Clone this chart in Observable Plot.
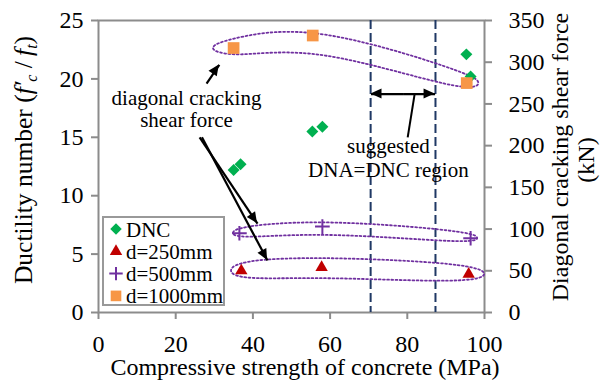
<!DOCTYPE html>
<html><head><meta charset="utf-8">
<script src="https://cdn.jsdelivr.net/npm/d3@7"></script>
<script src="https://cdn.jsdelivr.net/npm/@observablehq/plot@0.6"></script>
<style>body{margin:0;background:#fff}</style>
</head><body><div id="chart"></div>
<script>
// ---- tick labels ----
const xTicks = [0, 20, 40, 60, 80, 100];
const yTicks = [0, 5, 10, 15, 20, 25];
const shearTicks = [0, 50, 100, 150, 200, 250, 300, 350];

// ---- data ----
const fcDNC = [35.0, 36.8, 55.4, 58.0, 95.3, 96.4];
const ductDNC = [12.2, 12.7, 15.5, 15.9, 22.1, 20.2];
const fc250 = [37.0, 57.8, 95.9];
const shear250 = [50, 54, 46];
const fc500 = [36.5, 58.0, 96.4];
const shear500 = [95, 103, 89];
const fc1000 = [35.0, 55.5, 95.4];
const shear1000 = [317, 332, 275];
const regionBounds = [70.5, 87.3];

const seriesNames = ["DNC", "d=250mm", "d=500mm", "d=1000mm"];
const seriesColors = ["#00B050", "#C00000", "#7030A0", "#F79646"];
const seriesSymbols = ["diamond2", "triangle", "plus", "square"];

// annotation anchors (data units: MPa, ductility)
const noteTexts = [
  {x: 22.8, y: 18.35, text: "diagonal cracking"},
  {x: 22.8, y: 16.44, text: "shear force"},
  {x: 75.1, y: 14.27, text: "suggested"},
  {x: 75.1, y: 12.16, text: "DNA=DNC region"}
];
const noteArrows = [
  {x1: 28.0, y1: 19.6, x2: 31.3, y2: 21.2},
  {x1: 26.2, y1: 15.0, x2: 41.2, y2: 7.6},
  {x1: 26.8, y1: 15.0, x2: 43.8, y2: 4.45},
  {x1: 78.9, y1: 18.7, x2: 70.6, y2: 18.7},
  {x1: 78.9, y1: 18.7, x2: 87.2, y2: 18.7}
];
const noteLinks = [{x1: 81.9, y1: 18.7, x2: 80.1, y2: 15.0}];

// ---- build ----
const K = 25 / 350; // shear (kN) -> left axis units
const zip = (xs, ys, k = 1) => xs.map((x, i) => ({x, y: ys[i] * k}));
const dncData = zip(fcDNC, ductDNC);
const d250 = zip(fc250, shear250, K);
const d500 = zip(fc500, shear500, K);
const d1000 = zip(fc1000, shear1000, K);

function loop(fc, v, up, dn, exL, exR) {
  const n = fc.length;
  const pts = [{x: fc[0] - exL, y: v[0] * K}];
  fc.forEach((x, i) => pts.push({x, y: (v[i] + up) * K}));
  pts.push({x: fc[n - 1] + exR, y: v[n - 1] * K});
  for (let i = n - 1; i >= 0; i--) pts.push({x: fc[i], y: (v[i] - dn) * K});
  return pts;
}
const loops = [
  loop(fc250, shear250, 13, 11, 4, 6),
  loop(fc500, shear500, 8.5, 6.5, 2.5, 2.5),
  loop(fc1000, shear1000, 13, 12, 8, 4.5)
];

const gray = "#8c8c8c";
const plot = Plot.plot({
  width: 604, height: 381,
  marginLeft: 98, marginRight: 120, marginTop: 20, marginBottom: 69,
  style: {fontFamily: "Liberation Serif", fontSize: "24px", background: "#fff", color: "black"},
  x: {domain: [0, 100]},
  y: {domain: [0, 25]},
  marks: [
    Plot.frame({stroke: gray, strokeWidth: 2}),
    Plot.axisX({ticks: xTicks, tickSize: 7, tickPadding: 15, stroke: gray, strokeWidth: 2, fill: "black", fontSize: 24, label: null}),
    Plot.axisY({anchor: "left", ticks: yTicks, tickSize: 7, tickPadding: 8, stroke: gray, strokeWidth: 2, fill: "black", fontSize: 24, label: null}),
    Plot.axisY({anchor: "right", ticks: shearTicks.map(v => v * K), tickFormat: d => String(Math.round(d / K)), tickSize: 7, tickPadding: 17, stroke: gray, strokeWidth: 2, fill: "black", fontSize: 24, label: null}),
    Plot.ruleX(regionBounds, {stroke: "#1F3864", strokeWidth: 2, strokeDasharray: "9,4"}),
    ...loops.map(L => Plot.line(L, {x: "x", y: "y", curve: "basis-closed", stroke: "#7030A0", strokeWidth: 1.8, strokeDasharray: "1.8,2.4"})),
    Plot.dot(dncData, {x: "x", y: "y", symbol: "diamond2", r: 5.4, fill: seriesColors[0]}),
    Plot.dot(d250, {x: "x", y: "y", symbol: "triangle", r: 4.6, fill: seriesColors[1]}),
    Plot.dot(d500, {x: "x", y: "y", symbol: "plus", r: 4.8, stroke: seriesColors[2], strokeWidth: 2}),
    Plot.dot(d1000, {x: "x", y: "y", symbol: "square", r: 6.6, fill: seriesColors[3]}),
    Plot.link(noteArrows, {x1: "x1", y1: "y1", x2: "x2", y2: "y2", stroke: "black", strokeWidth: 2.2}),
    Plot.link(noteLinks, {x1: "x1", y1: "y1", x2: "x2", y2: "y2", stroke: "black", strokeWidth: 2}),
    Plot.text(noteTexts, {x: "x", y: "y", text: "text", fontSize: 21, fill: "black", lineAnchor: "middle"})
  ]
});
document.getElementById("chart").appendChild(plot);

// ---- arrow heads (filled), placed through the plot's own scales ----
const svg = d3.select(plot);
const sx = plot.scale("x"), sy = plot.scale("y");
const heads = svg.append("g").attr("fill", "black");
noteArrows.forEach(a => {
  const x1 = sx.apply(a.x1), y1 = sy.apply(a.y1), x2 = sx.apply(a.x2), y2 = sy.apply(a.y2);
  const ang = Math.atan2(y2 - y1, x2 - x1), L = 11, W = 5;
  const bx = x2 - L * Math.cos(ang), by = y2 - L * Math.sin(ang);
  const px = -Math.sin(ang) * W, py = Math.cos(ang) * W;
  heads.append("path").attr("d", `M${x2},${y2}L${bx + px},${by + py}L${bx - px},${by - py}Z`);
});

// ---- titles and legend ----
const ff = "Liberation Serif";
svg.append("text").attr("x", 305).attr("y", 375).attr("text-anchor", "middle")
  .attr("font-family", ff).attr("font-size", 24).attr("fill", "black")
  .text("Compressive strength of concrete (MPa)");

const lt = svg.append("text").attr("transform", "translate(32,160) rotate(-90)")
  .attr("text-anchor", "middle").attr("font-family", ff).attr("font-size", 25.5).attr("fill", "black");
lt.append("tspan").text("Ductility number (");
lt.append("tspan").attr("font-style", "italic").text("f\u2032");
lt.append("tspan").attr("font-size", 16).attr("dy", 5).attr("font-style", "italic").text("c");
lt.append("tspan").attr("dy", -5).text(" /\u2009");
lt.append("tspan").attr("font-style", "italic").text("f");
lt.append("tspan").attr("font-size", 16).attr("dy", 5).attr("font-style", "italic").text("t");
lt.append("tspan").attr("dy", -5).text(")");

svg.append("text").attr("transform", "translate(568,157) rotate(-90)")
  .attr("text-anchor", "middle").attr("font-family", ff).attr("font-size", 24).attr("fill", "black")
  .text("Diagonal cracking shear force");
svg.append("text").attr("transform", "translate(594,160) rotate(-90)")
  .attr("text-anchor", "middle").attr("font-family", ff).attr("font-size", 24).attr("fill", "black")
  .text("(kN)");

const lg = svg.append("g").attr("text-anchor", "start");
lg.append("rect").attr("x", 103).attr("y", 217).attr("width", 121).attr("height", 88)
  .attr("fill", "white").attr("stroke", "#999").attr("stroke-width", 2);
const symMap = {diamond2: d3.symbolDiamond2, triangle: d3.symbolTriangle, plus: d3.symbolPlus, square: d3.symbolSquare};
const symR = [5.2, 4.6, 4.4, 6.0];
seriesNames.forEach((name, i) => {
  const cy = 229 + i * 22.3;
  const path = d3.symbol(symMap[seriesSymbols[i]], Math.PI * symR[i] * symR[i])();
  const p = lg.append("path").attr("d", path).attr("transform", `translate(116,${cy})`);
  if (seriesSymbols[i] === "plus") p.attr("fill", "none").attr("stroke", seriesColors[i]).attr("stroke-width", 2);
  else p.attr("fill", seriesColors[i]);
  lg.append("text").attr("x", 126).attr("y", cy + 7.5).attr("text-anchor", "start").attr("font-family", ff).attr("font-size", 21)
    .attr("fill", "black").text(name);
});
</script>
</body></html>
